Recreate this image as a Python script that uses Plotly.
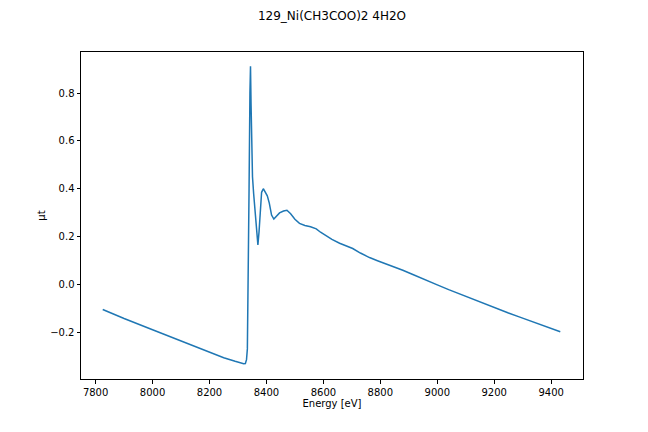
import plotly.graph_objects as go

energy = [7825, 7900, 8000, 8100, 8200, 8250, 8290, 8310, 8320, 8326, 8330, 8333, 8336, 8339,
          8342, 8344, 8346, 8348, 8351, 8355, 8360, 8365, 8370, 8374, 8378, 8383, 8389, 8396,
          8403, 8410, 8418, 8426, 8435, 8446, 8460, 8472, 8485, 8500, 8516, 8535, 8555, 8575,
          8590, 8610, 8630, 8657, 8680, 8703, 8730, 8762, 8790, 8821, 8850, 8879, 8910, 8938,
          8970, 9000, 9040, 9100, 9150, 9200, 9250, 9290, 9350, 9400, 9432]
mu_t = [-0.105, -0.143, -0.190, -0.238, -0.286, -0.307, -0.322, -0.329, -0.332, -0.331, -0.315,
        -0.270, 0.000, 0.400, 0.800, 0.912, 0.750, 0.600, 0.450, 0.380, 0.300, 0.220, 0.165,
        0.220, 0.320, 0.385, 0.400, 0.385, 0.370, 0.340, 0.290, 0.273, 0.285, 0.299, 0.307,
        0.310, 0.295, 0.272, 0.255, 0.246, 0.241, 0.232, 0.218, 0.202, 0.188, 0.172, 0.162,
        0.150, 0.131, 0.112, 0.099, 0.086, 0.073, 0.059, 0.043, 0.028, 0.012, -0.002, -0.022,
        -0.050, -0.074, -0.099, -0.120, -0.137, -0.163, -0.185, -0.198]

x_ticks = [7800, 8000, 8200, 8400, 8600, 8800, 9000, 9200, 9400]
y_ticks = [-0.2, 0.0, 0.2, 0.4, 0.6, 0.8]
y_tick_text = ["\u22120.2", "0.0", "0.2", "0.4", "0.6", "0.8"]

title_text = "129_Ni(CH3COO)2 4H2O"
x_label = "Energy [eV]"
y_label = "\u03bct"

fig = go.Figure()
fig.add_trace(go.Scatter(x=energy, y=mu_t, mode="lines",
                         line=dict(color="#1f77b4", width=1.5), showlegend=False))

font = "DejaVu Sans"
axis_common = dict(showgrid=False, zeroline=False, showline=True, linecolor="black",
                   linewidth=1, mirror=True, ticks="outside", ticklen=3.5, tickwidth=0.8,
                   tickcolor="black", tickfont=dict(family=font, size=10, color="black"))

fig.update_layout(
    width=648, height=432,
    margin=dict(l=73, r=73, t=44, b=61),
    paper_bgcolor="white", plot_bgcolor="white",
    title=dict(text=title_text, x=0.5, xanchor="center", y=1 - 8 / 432, yanchor="middle",
               yref="container", font=dict(family=font, size=12, color="black")),
    xaxis=dict(range=[7748.7, 9511.8], tickvals=x_ticks,
               title=dict(text=x_label, standoff=0, font=dict(family=font, size=10, color="black")),
               **axis_common),
    yaxis=dict(range=[-0.396, 0.972], tickvals=y_ticks, ticktext=y_tick_text,
               title=dict(text=y_label, standoff=2, font=dict(family=font, size=10, color="black")),
               **axis_common),
)

fig.write_html("out.html")
